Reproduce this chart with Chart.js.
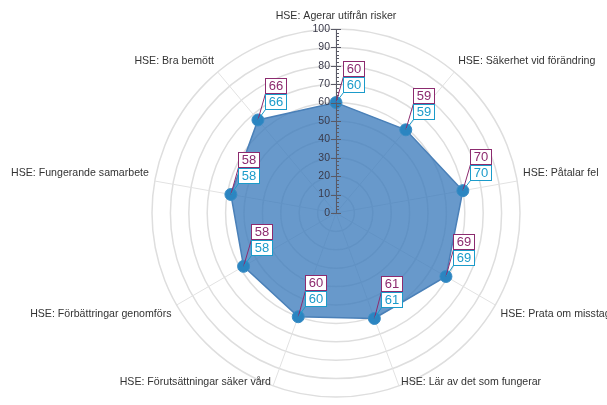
<!DOCTYPE html>
<html lang="sv">
<head>
    <meta charset="UTF-8">
    <title>HSE radar</title>
    <script src="https://cdn.jsdelivr.net/npm/chart.js"></script>
    <style>
        html, body { margin: 0; padding: 0; background: #fff; }
        #wrap { width: 607px; height: 405px; position: relative; }
    </style>
</head>
<body>
    <div id="wrap"><canvas id="radar"></canvas></div>

    <script>
        // categories, clockwise from the top
        const categories = [
            'HSE: Agerar utifrån risker',
            'HSE: Säkerhet vid förändring',
            'HSE: Påtalar fel',
            'HSE: Prata om misstag',
            'HSE: Lär av det som fungerar',
            'HSE: Förutsättningar säker vård',
            'HSE: Förbättringar genomförs',
            'HSE: Fungerande samarbete',
            'HSE: Bra bemött'
        ];
        const scores = [60, 59, 70, 69, 61, 60, 58, 58, 66];
        const tickValues = [0, 10, 20, 30, 40, 50, 60, 70, 80, 90, 100];

        const labelFont = '10.6px "Liberation Sans", Arial, sans-serif';
        const tickFont = '10.5px "Liberation Sans", Arial, sans-serif';
        const boxFont = '13px "Liberation Sans", Arial, sans-serif';
        const purple = '#8c2b6f';
        const cyan = '#1b9bca';

        // axis with tick marks + numbers, then the value boxes
        const overlay = {
            id: 'overlay',
            afterDatasetsDraw(chart) {
                const ctx = chart.ctx;
                const s = chart.scales.r;
                const cx = s.xCenter, cy = s.yCenter;
                ctx.save();

                // vertical axis
                ctx.strokeStyle = '#5a5a66';
                ctx.lineWidth = 1;
                ctx.beginPath();
                ctx.moveTo(cx + 0.5, cy);
                ctx.lineTo(cx + 0.5, cy - s.getDistanceFromCenterForValue(100));
                ctx.stroke();
                for (let v = 0; v <= 100; v += 2) {
                    const y = Math.round(cy - s.getDistanceFromCenterForValue(v)) + 0.5;
                    ctx.beginPath();
                    if (v % 10 === 0) {
                        ctx.moveTo(cx - 5, y);
                        ctx.lineTo(cx + 5, y);
                    } else {
                        ctx.moveTo(cx, y);
                        ctx.lineTo(cx + 3, y);
                    }
                    ctx.stroke();
                }
                ctx.font = tickFont;
                ctx.fillStyle = '#3a3a4a';
                ctx.textAlign = 'right';
                ctx.textBaseline = 'middle';
                tickValues.forEach(v => {
                    ctx.fillText(String(v), cx - 6, cy - s.getDistanceFromCenterForValue(v));
                });

                // value boxes
                const meta = chart.getDatasetMeta(0);
                ctx.font = boxFont;
                ctx.textAlign = 'center';
                meta.data.forEach((pt, i) => {
                    const px = pt.x, py = pt.y;
                    const txt = String(scores[i]);
                    const bx = Math.round(px) + 7.5;
                    const boxes = [
                        { color: purple, top: Math.round(py) - 41.5 },
                        { color: cyan, top: Math.round(py) - 25.5 }
                    ];
                    boxes.forEach(b => {
                        ctx.strokeStyle = b.color;
                        ctx.lineWidth = 1;
                        ctx.beginPath();
                        ctx.moveTo(px, py);
                        ctx.lineTo(bx, b.top + 15);
                        ctx.stroke();
                    });
                    boxes.forEach(b => {
                        ctx.fillStyle = '#fff';
                        ctx.fillRect(bx, b.top, 21, 15);
                        ctx.strokeStyle = b.color;
                        ctx.strokeRect(bx, b.top, 21, 15);
                        ctx.fillStyle = b.color;
                        ctx.fillText(txt, bx + 10.5, b.top + 8);
                    });
                });
                ctx.restore();
            },
            afterDraw(chart) {
                // category labels round the outer ring
                const ctx = chart.ctx;
                const s = chart.scales.r;
                ctx.save();
                ctx.font = labelFont;
                ctx.fillStyle = '#333';
                const h = 13;
                categories.forEach((c, i) => {
                    const p = s.getPointPosition(i, s.drawingArea + 6);
                    const ang = Math.round(i * 360 / categories.length);
                    ctx.textAlign = (ang === 0 || ang === 180) ? 'center' : (ang < 180 ? 'left' : 'right');
                    let top;
                    if (ang === 90 || ang === 270) top = p.y - h / 2;
                    else if (ang < 90 || ang > 270) top = p.y - h;
                    else top = p.y;
                    top = Math.min(top, chart.height - 16 - h);
                    ctx.textBaseline = 'middle';
                    ctx.fillText(c, p.x, top + h / 2);
                });
                ctx.restore();
            }
        };

        new Chart(document.getElementById('radar'), {
            type: 'radar',
            data: {
                labels: categories,
                datasets: [{
                    data: scores,
                    backgroundColor: 'rgba(62, 124, 188, 0.78)',
                    borderColor: '#4a80b8',
                    borderWidth: 1.5,
                    pointRadius: 6,
                    pointBackgroundColor: '#2b85c1',
                    pointBorderColor: '#3a8cc4',
                    pointBorderWidth: 1
                }]
            },
            options: {
                responsive: true,
                maintainAspectRatio: false,
                animation: false,
                layout: { padding: { left: 152, right: 87, top: 29, bottom: 8 } },
                plugins: { legend: { display: false }, tooltip: { enabled: false } },
                scales: {
                    r: {
                        min: 0,
                        max: 100,
                        ticks: { stepSize: 10, display: false },
                        grid: { circular: true, color: '#dedede', lineWidth: 1.5 },
                        angleLines: { color: '#e2e2e2', lineWidth: 1 },
                        pointLabels: { display: false }
                    }
                }
            },
            plugins: [overlay]
        });
    </script>
</body>
</html>
